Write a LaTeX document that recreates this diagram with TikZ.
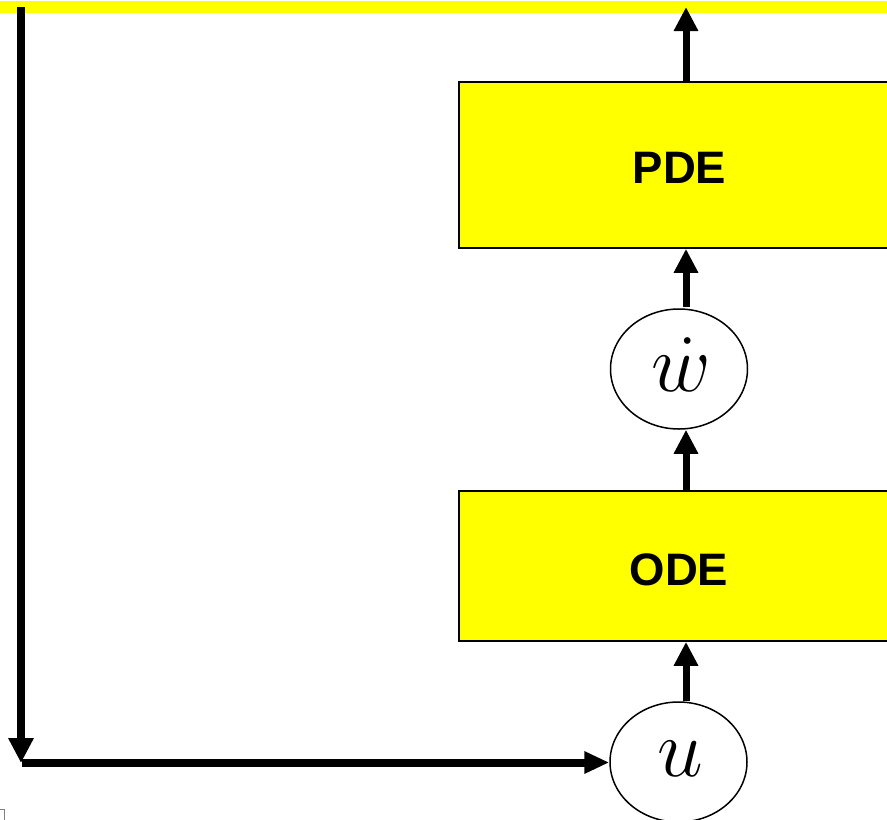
\RequirePackage{fix-cm}
\documentclass[tikz,border=0pt]{standalone}
\usepackage{fontspec}
\newfontfamily\lsans{Liberation Sans}
\usetikzlibrary{arrows.meta,shapes.geometric,calc}
\definecolor{boxyellow}{RGB}{255,255,0}
\begin{document}
\begin{tikzpicture}[x=1pt,y=-1pt,
  blockbox/.style={draw=black,line width=1.6pt,fill=boxyellow,inner sep=0pt,minimum width=441pt},
  blocklabel/.style={anchor=base,inner sep=0pt,font=\lsans\bfseries\fontsize{45.5}{50}\selectfont},
  varnode/.style={draw=black,line width=1.5pt,ellipse,inner sep=0pt,minimum width=137pt,minimum height=120pt},
  varlabel/.style={anchor=base,inner sep=0pt,font=\fontsize{82}{90}\selectfont},
  flow/.style={line width=7pt,-{Triangle[length=24pt,width=23pt]}},
  feedback/.style={line width=8pt,-{Triangle[length=25pt,width=24pt]}}]
\useasboundingbox (0,0) rectangle (887,820);
\fill[boxyellow] (0,1) rectangle (887,13);
% blocks
\node[blockbox,minimum height=166pt] (pde) at (679.5,165) {};
\node[blocklabel] (pdet) at (679.5,183) {PDE};
\node[blockbox,minimum height=150pt] (ode) at (679.5,566) {};
\node[blocklabel] (odet) at (679,585) {ODE};
% variables
\node[varnode] (w) at (679,369) {};
\node[varlabel] (wt) at (681,391) {$\dot{w}$};
\node[varnode] (u) at (678.5,762) {};
\node[varlabel] (ut) at (680,776) {$u$};
% coordinates
\coordinate (ax) at (686,0);
\coordinate (top) at (686,7);
\coordinate (tl) at (21,7);
\coordinate (bl) at (21,763);
\coordinate (hs) at (21.5,762.5);
% arrows
\draw[flow] (u.north -| ax) -- (ode.south -| ax);
\draw[flow] (ode.north -| ax) -- (w.south -| ax);
\draw[flow] ([yshift=1.5pt]w.north -| ax) -- (pde.south -| ax);
\draw[flow] (pde.north -| ax) -- (top);
\draw[feedback] (tl) -- (bl);
\draw[feedback,-{Triangle[length=25pt,width=21pt]}] (hs) -- (hs -| u.west);
% small corner mark
\draw[gray,line width=1pt] (0,809.5) -- (4.5,809.5) -- (4.5,820);
\end{tikzpicture}
\end{document}
